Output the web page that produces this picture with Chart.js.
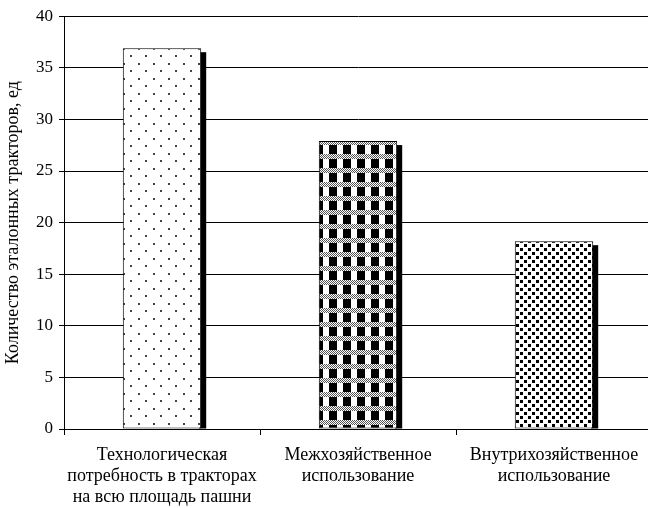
<!DOCTYPE html>
<html>
<head>
<meta charset="utf-8">
<script src="https://cdn.jsdelivr.net/npm/chart.js@4/dist/chart.umd.min.js"></script>
<style>
html,body{margin:0;padding:0;background:#fff;overflow:hidden;}
#wrap{width:652px;height:508px;}
</style>
</head>
<body>
<div id="wrap"><canvas id="c" width="652" height="508"></canvas></div>
<script>
const categories = [
  ["Технологическая", "потребность в тракторах", "на всю площадь пашни"],
  ["Межхозяйственное", "использование"],
  ["Внутрихозяйственное", "использование"]
];
const values = [36.9, 27.9, 18.2];
const yTicks = [0, 5, 10, 15, 20, 25, 30, 35, 40];
const yTitle = "Количество эталонных тракторов, ед";

function makePattern(w, h, draw) {
  const c = document.createElement('canvas');
  c.width = w; c.height = h;
  const g = c.getContext('2d');
  draw(g);
  return document.getElementById('c').getContext('2d').createPattern(c, 'repeat');
}
const pDots = makePattern(15, 15, g => {
  g.fillStyle = '#fff'; g.fillRect(0, 0, 15, 15);
  g.fillStyle = '#444';
  g.fillRect(3, 3, 2, 2);
  g.fillRect(10, 10, 2, 2);
});
const pPlaid = makePattern(14, 14, g => {
  g.fillStyle = '#000'; g.fillRect(0, 0, 14, 14);
  g.fillStyle = '#fff'; g.fillRect(1, 5, 6, 9);
  for (let y = 0; y < 5; y++) for (let x = 0; x < 14; x++) {
    g.fillStyle = ((x + y) % 2) ? '#fff' : '#555';
    g.fillRect(x, y, 1, 1);
  }
});
const pSquares = makePattern(8, 8, g => {
  g.fillStyle = '#fff'; g.fillRect(0, 0, 8, 8);
  g.fillStyle = '#000';
  g.fillRect(0, 0, 3, 3);
  g.fillRect(4, 4, 3, 3);
});

const shadowPlugin = {
  id: 'shadow',
  beforeDatasetDraw(chart, args) {
    const ctx = chart.ctx;
    const meta = args.meta;
    ctx.save();
    ctx.fillStyle = '#000';
    meta.data.forEach(bar => {
      const p = bar.getProps(['x', 'y', 'base', 'width'], true);
      const right = p.x + p.width / 2;
      const top = Math.min(p.y, p.base);
      const h = Math.abs(p.base - p.y);
      ctx.fillRect(right - 2, top + 4, 7, h - 4);
    });
    ctx.restore();
  }
};

Chart.defaults.font.family = '"Liberation Serif", "Times New Roman", serif';
Chart.defaults.color = '#000';

new Chart(document.getElementById('c'), {
  type: 'bar',
  data: {
    labels: categories,
    datasets: [{
      data: values,
      backgroundColor: [pDots, pPlaid, pSquares],
      borderColor: '#000',
      borderWidth: 1,
      borderSkipped: false,
      categoryPercentage: 1,
      barPercentage: 0.4
    }]
  },
  options: {
    responsive: false,
    animation: false,
    events: [],
    layout: { padding: { top: 9, left: 2, right: 0, bottom: 0 } },
    plugins: { legend: { display: false }, tooltip: { enabled: false } },
    scales: {
      x: {
        grid: { offset: true, drawOnChartArea: false, color: '#000', tickLength: 6, lineWidth: 1 },
        border: { color: '#000', width: 1 },
        ticks: { font: { size: 18, lineHeight: 1.17 }, padding: 10, maxRotation: 0, autoSkip: false },
        afterFit(s) { s.height = 79; }
      },
      y: {
        min: 0, max: 40,
        afterBuildTicks(s) { s.ticks = yTicks.map(v => ({ value: v })); },
        grid: { color: '#000', tickLength: 5, lineWidth: 1 },
        border: { color: '#000', width: 1 },
        ticks: { font: { size: 17 }, padding: 6 },
        title: { display: true, text: yTitle, font: { size: 18 }, padding: { top: 0, bottom: 4 } },
        afterFit(s) { s.width = 62; }
      }
    }
  },
  plugins: [shadowPlugin]
});
</script>
</body>
</html>
